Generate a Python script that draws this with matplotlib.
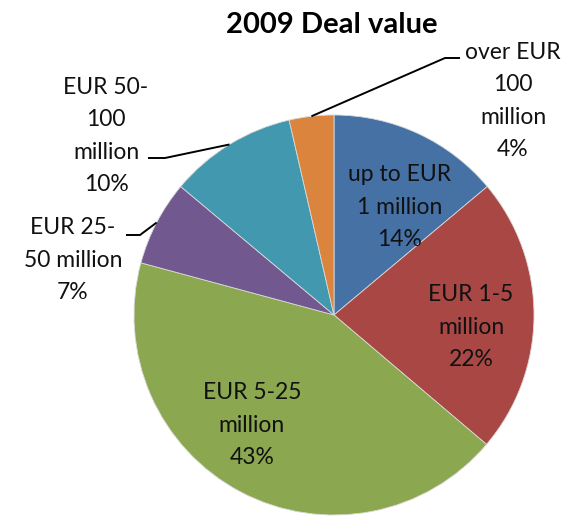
import matplotlib.pyplot as plt
import numpy as np

plt.rcParams['font.family'] = ['Lato', 'DejaVu Sans']

# slice shares (clockwise from 12 o'clock)
categories = ["up to EUR\n1 million", "EUR 1-5\nmillion", "EUR 5-25\nmillion",
              "EUR 25-\n50 million", "EUR 50-\n100\nmillion", "over EUR\n100\nmillion"]
shares = [13.9, 22.3, 43.0, 6.9, 10.3, 3.6]
colors = ["#4671A5", "#A94745", "#8BA74F", "#71598F", "#4298AF", "#DB843D"]

W, H = 566, 516
cx, cy, R = 334, 315, 200  # pie centre and radius in pixels


def px(x, y):
    # pixel position -> data coords (pie radius = 1)
    return (x - cx) / R, (cy - y) / R


fig = plt.figure(figsize=(W / 100, H / 100), dpi=100)
ax = fig.add_axes([0, 0, 1, 1])

wedges, _ = ax.pie(shares, colors=colors, startangle=90, counterclock=False,
                   radius=1, wedgeprops=dict(edgecolor="#d8d8d8", linewidth=0.6))

# pie() resets the limits, so set them afterwards
ax.set_aspect("auto")
ax.set_xlim(-cx / R, (W - cx) / R)
ax.set_ylim((cy - H) / R, cy / R)
ax.axis("off")

labels = [f"{c}\n{round(s):.0f}%" for c, s in zip(categories, shares)]

# label centres (pixels) -- inside labels for the big slices, outside for the rest
label_pos = [(400, 207), (471, 327), (252, 425), (73, 260), (106, 136), (513, 101)]
# where the leader line leaves the text (pixels), only for outside labels
leader_start = {3: [(126, 235), (140, 235)],
                4: [(148, 158), (165, 158)],
                5: [(460, 58), (445, 58)]}

for i, (w, lab) in enumerate(zip(wedges, labels)):
    x, y = px(*label_pos[i])
    ax.text(x, y, lab, ha="center", va="center", fontsize=16.5, linespacing=1.66,
            color="#111111")
    if i in leader_start:
        mid = np.deg2rad((w.theta1 + w.theta2) / 2)
        pts = [px(*p) for p in leader_start[i]] + [(np.cos(mid), np.sin(mid))]
        xs, ys = zip(*pts)
        ax.plot(xs, ys, color="black", lw=1.4, solid_capstyle="butt")

tx, ty = px(332, 25)
ax.text(tx, ty, "2009 Deal value", ha="center", va="center", fontsize=21,
        fontweight="bold")

fig.savefig("out.png", dpi=100)
